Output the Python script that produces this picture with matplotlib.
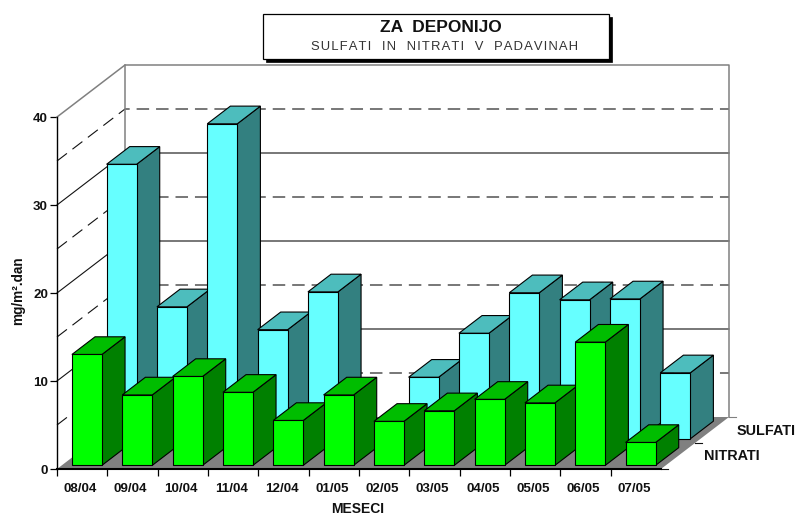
import matplotlib
matplotlib.use("Agg")
import matplotlib.pyplot as plt
from matplotlib.patches import Polygon, Rectangle

months = ["08/04", "09/04", "10/04", "11/04", "12/04", "01/05",
          "02/05", "03/05", "04/05", "05/05", "06/05", "07/05"]
nitrati = [12.6, 8.0, 10.1, 8.3, 5.1, 8.0, 5.0, 6.2, 7.5, 7.1, 14.0, 2.6]
sulfati = [31.2, 15.0, 35.8, 12.4, 16.7, 0, 7.0, 12.0, 16.6, 15.8, 15.9, 7.5]
series_names = ["NITRATI", "SULFATI"]
y_ticks = [0, 10, 20, 30, 40]
title = "ZA  DEPONIJO"
subtitle = "SULFATI  IN  NITRATI  V  PADAVINAH"
xlabel = "MESECI"
ylabel = "mg/m².dan"

plt.rcParams["font.family"] = ["Liberation Sans", "DejaVu Sans"]
plt.rcParams["lines.scale_dashes"] = False

W, H = 797, 515
fig = plt.figure(figsize=(W / 100, H / 100), dpi=100)
PX_X = (661 - 57) / 12
PX_Y = (469 - 117) / 40
ax = fig.add_axes([57 / W, 1 - 469 / H, 604 / W, 352 / H])
ax.set_xlim(0, 12)
ax.set_ylim(0, 40)
ax.patch.set_alpha(0)
DX = 68 / PX_X
DY = 52 / PX_Y
LW = 0.8


def proj(x, y, d):
    return (x + d * DX, y + d * DY)


DASH = (0, (9.0, 5.0))
INK = "#111111"
WALL = "#808080"
TEXT = "#111111"

ax.add_patch(Polygon([proj(0, 0, 0), proj(12, 0, 0), proj(12, 0, 1), proj(0, 0, 1)],
                     fc=WALL, ec="none", zorder=1, clip_on=False))
for v in range(5, 40, 5):
    ls = "-" if v % 10 == 0 else DASH
    pts = [proj(0, v, 0), proj(0, v, 1), proj(12, v, 1)]
    ax.plot(*zip(*pts), color=INK, lw=LW, ls=ls, zorder=1.5, clip_on=False)
pts = [proj(0, 40, 0), proj(0, 40, 1), proj(12, 40, 1), proj(12, 0, 1)]
ax.plot(*zip(*pts), color=WALL, lw=1.1, zorder=1.6, clip_on=False)
ax.plot(*zip(proj(0, 0, 1), proj(0, 40, 1)), color=WALL, lw=1.1, zorder=1.6, clip_on=False)
for d in (0, 0.5, 1):
    x0, y0 = proj(12, 0, d)
    ax.plot([x0, x0 + 7 / PX_X], [y0, y0], color=INK if d < 1 else WALL, lw=LW,
            zorder=1.6, clip_on=False)


def bars(values, d0, d1, face, top, side, z):
    bw = 30 / PX_X
    for i, v in enumerate(values):
        if v <= 0:
            continue
        x0 = i + 0.5 - bw / 2
        x1 = x0 + bw
        kw = dict(ec="black", lw=LW, zorder=z + i * 0.01, clip_on=False, joinstyle="miter")
        ax.add_patch(Polygon([proj(x1, 0, d0), proj(x1, v, d0), proj(x1, v, d1), proj(x1, 0, d1)],
                             fc=side, **kw))
        ax.add_patch(Polygon([proj(x0, v, d0), proj(x1, v, d0), proj(x1, v, d1), proj(x0, v, d1)],
                             fc=top, **kw))
        ax.add_patch(Polygon([proj(x0, 0, d0), proj(x1, 0, d0), proj(x1, v, d0), proj(x0, v, d0)],
                             fc=face, **kw))


bars(sulfati, 0.58, 0.92, "#66FFFF", "#4DBDBD", "#338080", 2)
bars(nitrati, 0.07, 0.41, "#00FF00", "#00BD00", "#008000", 3)

for s in ("top", "right"):
    ax.spines[s].set_visible(False)
ax.spines["left"].set_linewidth(1.0)
ax.spines["bottom"].set_linewidth(1.5)
ax.spines["left"].set_zorder(5)
ax.spines["bottom"].set_zorder(5)
ax.set_yticks(y_ticks)
ax.set_yticklabels([str(t) for t in y_ticks], fontsize=9.6, fontweight="bold", color=TEXT)
ax.tick_params(axis="y", length=5, width=0.9, pad=1.5)
ax.set_xticks(range(12))
ax.set_xticklabels([])
ax.tick_params(axis="x", which="major", length=5, width=0.9)
ax.set_xticks([i + 0.46 for i in range(12)], minor=True)
ax.set_xticklabels(months, minor=True, fontsize=9.6, fontweight="bold", color=TEXT)
ax.tick_params(axis="x", which="minor", length=0, pad=10)

fig.text(358 / W, 1 - 509 / H, xlabel, ha="center", va="center", fontsize=10, fontweight="bold", color=TEXT)
fig.text(18 / W, 1 - 291 / H, ylabel, ha="center", va="center", rotation=90, fontsize=9.8, fontweight="bold", color=TEXT)
fig.text(737 / W, 1 - 431 / H, series_names[1], ha="left", va="center", fontsize=10.4, fontweight="bold", color=TEXT)
fig.text(704 / W, 1 - 456 / H, series_names[0], ha="left", va="center", fontsize=10.4, fontweight="bold", color=TEXT)

fig.add_artist(Rectangle((266 / W, 1 - 62 / H), 346 / W, 45 / H, transform=fig.transFigure, fc="black", ec="black", lw=0.5))
fig.add_artist(Rectangle((263 / W, 1 - 59 / H), 346 / W, 45 / H, transform=fig.transFigure, fc="white", ec="black", lw=0.9))
fig.text(440.5 / W, 1 - 27.5 / H, title, ha="center", va="center", fontsize=12.5, fontweight="bold", color="#111111")
fig.text(444 / W, 1 - 46.5 / H, "\u200a".join(subtitle), ha="center", va="center", fontsize=9.4, color="#333333")

fig.savefig("out.png", dpi=100)
